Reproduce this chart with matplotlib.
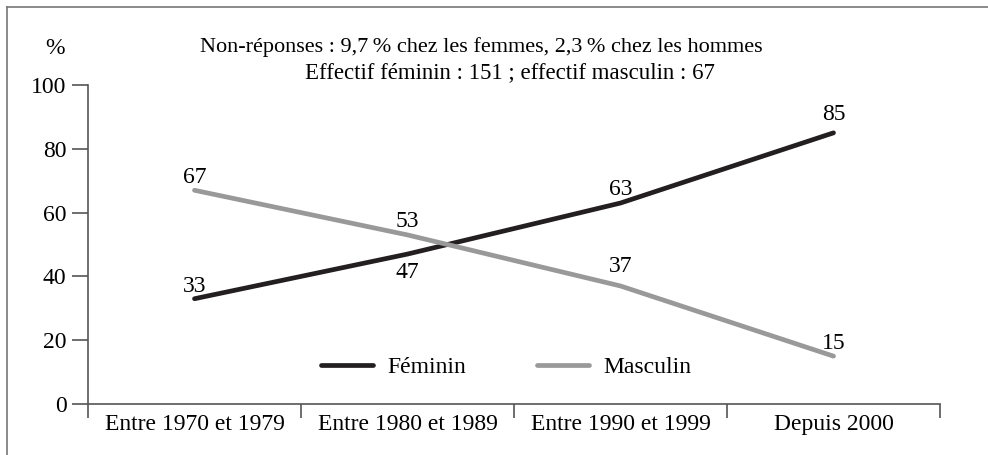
import matplotlib
matplotlib.use("Agg")
import matplotlib.pyplot as plt
from matplotlib.lines import Line2D

categories = ["Entre 1970 et 1979", "Entre 1980 et 1989", "Entre 1990 et 1999", "Depuis 2000"]
feminin = [33, 47, 63, 85]
masculin = [67, 53, 37, 15]
yticks = [0, 20, 40, 60, 80, 100]
title_lines = ["Non-réponses : 9,7\u2009% chez les femmes, 2,3\u2009% chez les hommes",
               "Effectif féminin : 151 ; effectif masculin : 67"]

plt.rcParams['font.family'] = ['Liberation Serif', 'DejaVu Serif']
FS = 17
black = "#231f20"
gray = "#999999"
axc = "#555555"

fig = plt.figure(figsize=(9.88, 4.55), dpi=100)
fig.add_artist(Line2D([7/988, 1], [1-7/455, 1-7/455], color="#777777", lw=1.2, transform=fig.transFigure))
fig.add_artist(Line2D([7/988, 7/988], [0, 1-7/455], color="#777777", lw=1.2, transform=fig.transFigure))

ax = fig.add_axes([88/988, 51/455, (940-88)/988, (404-85)/455])
x = list(range(len(categories)))
ax.plot(x, feminin, color=black, lw=3.4, solid_capstyle='round', label="Féminin")
ax.plot(x, masculin, color=gray, lw=3.4, solid_capstyle='round', label="Masculin")

ax.set_xlim(-0.5, 3.5)
ax.set_ylim(0, 100)
for s in ['top', 'right']:
    ax.spines[s].set_visible(False)
for s in ['left', 'bottom']:
    ax.spines[s].set_color(axc)
    ax.spines[s].set_linewidth(1.2)
ax.set_yticks(yticks)
ax.set_yticklabels([str(v) for v in yticks], fontsize=FS)
ax.tick_params(axis='y', length=11.5, width=1.2, color=axc, pad=4)
ax.set_xticks([i - 0.5 for i in range(len(categories) + 1)])
ax.set_xticklabels([""] * (len(categories) + 1))
ax.tick_params(axis='x', length=10, width=1.2, color=axc, direction='out')
for i, c in enumerate(categories):
    ax.annotate(c, (i, 0), xytext=(0, -7), textcoords='offset points', ha='center', va='top', fontsize=FS)

fem_off = [5, -6, 6, 9]
for i, v in enumerate(feminin):
    ax.annotate(str(v), (i, v), xytext=(0, fem_off[i]), textcoords='offset points',
                ha='center', va='baseline' if fem_off[i] > 0 else 'top', fontsize=FS)
masc_off = [5, 6, 10, 5]
for i, v in enumerate(masculin):
    ax.annotate(str(v), (i, v), xytext=(0, masc_off[i]), textcoords='offset points',
                ha='center', va='baseline', fontsize=FS)

fig.text(481/988, 1-47/455, title_lines[0], ha='center', va='center', fontsize=16)
fig.text(510/988, 1-73/455, title_lines[1], ha='center', va='center', fontsize=16.5)
fig.text(55/988, 1-48/455, "%", ha='center', va='center', fontsize=FS)

leg = ax.legend(loc='center', bbox_to_anchor=(506/988, 1-367/455), bbox_transform=fig.transFigure,
                ncol=2, frameon=False, fontsize=FS, handlelength=2.2, columnspacing=3.0, handletextpad=0.6)

fig.savefig("out.png", dpi=100)
